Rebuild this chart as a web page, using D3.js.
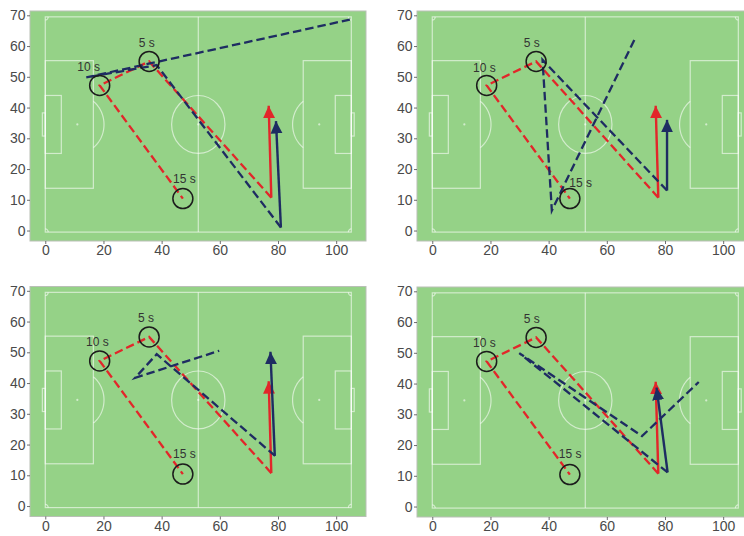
<!DOCTYPE html>
<html>
<head>
<meta charset="utf-8">
<script src="https://cdn.jsdelivr.net/npm/d3@7"></script>
<style>
  body { margin: 0; background: #ffffff; }
  svg { display: block; font-family: "Liberation Sans", Arial, Helvetica, sans-serif; }
</style>
</head>
<body>
<svg id="chart" width="744" height="536"></svg>
<script>
// ---- data -------------------------------------------------------------
const xTicks = [0, 20, 40, 60, 80, 100];
const yTicks = [0, 10, 20, 30, 40, 50, 60, 70];
const xDomain = [-5.25, 110.25];
const yDomain = [-3.4, 71.4];

const timeLabels = ["5 s", "10 s", "15 s"];

// observed trajectory: current position, then positions 5 s, 10 s, 15 s back
const redTrack = [[77.7, 10.7], [35.7, 55.0], [18.7, 47.2], [47.3, 10.4]];
const redArrow = [[77.7, 10.7], [76.8, 40.6]];

// predicted trajectories, one per panel
const blueTrackA = [[81.0, 1.0], [38.3, 53.8], [14.1, 49.8], [104.7, 68.6]];
const blueTrackB = [[80.7, 13.0], [37.9, 55.5], [41.1, 6.5], [69.9, 62.9]];
const blueTrackC = [[79.0, 16.3], [38.3, 49.4], [30.9, 41.7], [59.8, 50.5]];
const blueTrackD = [[80.9, 11.1], [29.9, 49.9], [72.1, 22.9], [91.6, 40.5]];

const blueArrowA = [[81.0, 1.0], [79.3, 35.6]];
const blueArrowB = [[80.7, 13.0], [80.7, 36.0]];
const blueArrowC = [[78.9, 16.3], [77.4, 50.2]];
const blueArrowD = [[80.9, 11.1], [77.1, 38.7]];

// label anchors for "5 s", "10 s", "15 s"
const labelsA = [[34.9, 60.9], [14.9, 53.3], [47.8, 16.8]];
const labelsB = [[34.2, 61.0], [17.9, 52.8], [51.0, 15.6]];
const labelsC = [[34.6, 61.0], [17.9, 53.4], [47.8, 16.9]];
const labelsD = [[34.2, 61.0], [17.9, 53.1], [47.4, 17.1]];

// pitch dimensions (metres)
const pitchLength = 105, pitchWidth = 68;

// ---- layout -----------------------------------------------------------
const panelW = 336, panelH = 230;
const panels = [
  { left: 30,  top: 11,    track: blueTrackA, arrow: blueArrowA, labels: labelsA },
  { left: 417, top: 11,    track: blueTrackB, arrow: blueArrowB, labels: labelsB },
  { left: 30,  top: 286.5, track: blueTrackC, arrow: blueArrowC, labels: labelsC },
  { left: 417, top: 287,   track: blueTrackD, arrow: blueArrowD, labels: labelsD }
];

const colors = {
  grass: "#95d287",
  border: "#b9bfb6",
  lines: "rgba(255,255,255,0.58)",
  red: "#e2262a",
  blue: "#1e2c62",
  ring: "#1c1c1c",
  text: "#333333",
  tick: "#4a4a4a"
};

const svg = d3.select("#chart");

// arrowheads
const defs = svg.append("defs");
[["head-red", colors.red], ["head-blue", colors.blue]].forEach(([id, c]) => {
  defs.append("marker")
    .attr("id", id)
    .attr("viewBox", "0 -7 13 14")
    .attr("refX", 12.5).attr("refY", 0)
    .attr("markerWidth", 13).attr("markerHeight", 14)
    .attr("markerUnits", "userSpaceOnUse")
    .attr("orient", "auto")
    .append("path")
    .attr("d", "M0,-6L12.5,0L0,6Z")
    .attr("fill", c);
});

const line = d3.line();

panels.forEach((p, i) => {
  const x = d3.scaleLinear().domain(xDomain).range([0, panelW]);
  const y = d3.scaleLinear().domain(yDomain).range([panelH, 0]);
  // the pitch artwork sits slightly stretched in the frame
  const px = d3.scaleLinear().domain([0, pitchLength]).range([x(0), x(105.2)]);
  const py = d3.scaleLinear().domain([0, pitchWidth]).range([y(-0.5), y(69.5)]);

  const g = svg.append("g").attr("transform", `translate(${p.left},${p.top})`);

  // panel background
  g.append("rect")
    .attr("width", panelW).attr("height", panelH)
    .attr("fill", colors.grass)
    .attr("stroke", colors.border).attr("stroke-width", 1);

  // ---- pitch markings ----
  const pg = g.append("g")
    .attr("fill", "none")
    .attr("stroke", colors.lines)
    .attr("stroke-width", 1.2);

  const rect = (x0, y0, x1, y1) =>
    pg.append("rect")
      .attr("x", px(x0)).attr("y", py(y1))
      .attr("width", px(x1) - px(x0)).attr("height", py(y0) - py(y1));

  const L = pitchLength, W = pitchWidth, cy = W / 2;
  rect(0, 0, L, W);
  pg.append("line")
    .attr("x1", px(L / 2)).attr("x2", px(L / 2))
    .attr("y1", py(0)).attr("y2", py(W));
  pg.append("ellipse")
    .attr("cx", px(L / 2)).attr("cy", py(cy))
    .attr("rx", px(9.15) - px(0)).attr("ry", py(0) - py(9.15));

  // penalty areas, goal areas, goals
  rect(0, cy - 20.16, 16.5, cy + 20.16);
  rect(L - 16.5, cy - 20.16, L, cy + 20.16);
  rect(0, cy - 9.16, 5.5, cy + 9.16);
  rect(L - 5.5, cy - 9.16, L, cy + 9.16);
  rect(-1, cy - 3.66, 0, cy + 3.66);
  rect(L, cy - 3.66, L + 1, cy + 3.66);

  // penalty arcs (outside the box only)
  const arcPts = (sx, side) => {
    const a = Math.acos(5.5 / 9.15);
    return d3.range(-a, a + 1e-9, a / 30).map(t => [
      px(sx + side * 9.15 * Math.cos(t)),
      py(cy + 9.15 * Math.sin(t))
    ]);
  };
  pg.append("path").attr("d", line(arcPts(11, 1)));
  pg.append("path").attr("d", line(arcPts(L - 11, -1)));

  // corner arcs
  [[0, 0, 0], [L, 0, Math.PI / 2], [L, W, Math.PI], [0, W, -Math.PI / 2]].forEach(([cx0, cy0, a0]) => {
    const pts = d3.range(0, 11).map(k => {
      const t = a0 + (k / 10) * Math.PI / 2;
      return [px(cx0 + Math.cos(t)), py(cy0 + Math.sin(t))];
    });
    pg.append("path").attr("d", line(pts));
  });

  // spots
  [[11, cy], [L - 11, cy], [L / 2, cy]].forEach(([sx, sy]) => {
    g.append("circle")
      .attr("cx", px(sx)).attr("cy", py(sy)).attr("r", 1.1)
      .attr("fill", colors.lines);
  });

  // ---- axes ----
  const yAxis = g.append("g")
    .call(d3.axisLeft(y).tickValues(yTicks).tickSize(3).tickPadding(1.5));
  const xAxis = g.append("g")
    .attr("transform", `translate(0,${panelH})`)
    .call(d3.axisBottom(x).tickValues(xTicks).tickSize(3).tickPadding(1.5));
  [yAxis, xAxis].forEach(a => {
    a.select(".domain").remove();
    a.selectAll(".tick line").attr("stroke", colors.tick).attr("stroke-width", 0.8);
    a.selectAll(".tick text")
      .attr("fill", colors.tick)
      .attr("font-size", 14)
      .attr("font-family", "Liberation Sans, Arial, sans-serif");
  });

  // ---- trajectories ----
  const toPx = pts => pts.map(([a, b]) => [x(a), y(b)]);

  g.append("path")
    .attr("d", line(toPx(redTrack)))
    .attr("fill", "none")
    .attr("stroke", colors.red)
    .attr("stroke-width", 2.3)
    .attr("stroke-dasharray", "8.5,4");

  g.append("path")
    .attr("d", line(toPx(redArrow)))
    .attr("fill", "none")
    .attr("stroke", colors.red)
    .attr("stroke-width", 2.4)
    .attr("marker-end", "url(#head-red)");

  g.append("path")
    .attr("d", line(toPx(p.track)))
    .attr("fill", "none")
    .attr("stroke", colors.blue)
    .attr("stroke-width", 2.3)
    .attr("stroke-dasharray", "8.5,4");

  g.append("path")
    .attr("d", line(toPx(p.arrow)))
    .attr("fill", "none")
    .attr("stroke", colors.blue)
    .attr("stroke-width", 2.4)
    .attr("marker-end", "url(#head-blue)");

  // ---- time markers ----
  g.selectAll("circle.mark")
    .data(redTrack.slice(1))
    .join("circle")
    .attr("class", "mark")
    .attr("cx", d => x(d[0])).attr("cy", d => y(d[1]))
    .attr("r", 10)
    .attr("fill", "none")
    .attr("stroke", colors.ring)
    .attr("stroke-width", 1.5);

  g.selectAll("text.mark")
    .data(p.labels)
    .join("text")
    .attr("class", "mark")
    .attr("x", d => x(d[0])).attr("y", d => y(d[1]))
    .attr("text-anchor", "middle")
    .attr("dominant-baseline", "central")
    .attr("font-size", 12)
    .attr("fill", colors.text)
    .text((d, k) => timeLabels[k]);
});
</script>
</body>
</html>
